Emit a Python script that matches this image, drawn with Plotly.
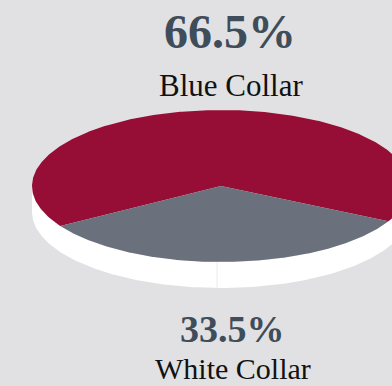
import numpy as np
import plotly.graph_objects as go

labels = ["Blue Collar", "White Collar"]
values = [66.5, 33.5]
colors = ["#960D35", "#6A717C"]
pct_text = ["66.5%", "33.5%"]

W, H = 392, 386
cx, cy, a, b, depth = 221, 186, 189, 76, 26
mid_angle_small = 88  # degrees, screen (y down), centre of second slice

def ell(th, dy=0):
    t = np.radians(th)
    return cx + a * np.cos(t), cy + dy + b * np.sin(t)

fig = go.Figure()

# side wall (white), lower half of ellipse
th1 = np.linspace(0, 180, 200)
x1, y1 = ell(th1)
x2, y2 = ell(th1[::-1], depth)
fig.add_trace(go.Scatter(x=np.r_[x1, x2], y=np.r_[y1, y2], fill="toself",
                         fillcolor="#FFFFFF", mode="lines", line=dict(width=0),
                         hoverinfo="skip", showlegend=False))
fig.add_trace(go.Scatter(x=[217, 217], y=[cy + b, cy + b + depth], mode="lines",
                         line=dict(color="#ECECEC", width=1), hoverinfo="skip",
                         showlegend=False))

total = sum(values)
span_small = values[1] / total * 360
start_small = mid_angle_small - span_small / 2
spans = [(start_small + span_small, start_small + 360), (start_small, start_small + span_small)]
for (s, e), col in zip(spans, colors):
    th = np.linspace(s, e, 400)
    xs, ys = ell(th)
    fig.add_trace(go.Scatter(x=np.r_[cx, xs, cx], y=np.r_[cy, ys, cy], fill="toself",
                             fillcolor=col, mode="lines", line=dict(width=0, color=col),
                             hoverinfo="skip", showlegend=False))

serif = "Liberation Serif"
pc = "#3F4C5A"
fig.add_annotation(x=230, y=31, text="<b>" + pct_text[0] + "</b>", showarrow=False,
                   font=dict(family=serif, size=48, color=pc), xanchor="center", yanchor="middle")
fig.add_annotation(x=231, y=85, text=labels[0], showarrow=False,
                   font=dict(family=serif, size=31, color="#111111"), xanchor="center", yanchor="middle")
fig.add_annotation(x=232, y=329, text="<b>" + pct_text[1] + "</b>", showarrow=False,
                   font=dict(family=serif, size=38, color=pc), xanchor="center", yanchor="middle")
fig.add_annotation(x=233, y=368, text=labels[1], showarrow=False,
                   font=dict(family=serif, size=30, color="#111111"), xanchor="center", yanchor="middle")

fig.update_layout(width=W, height=H, margin=dict(l=0, r=0, t=0, b=0),
                  paper_bgcolor="#E1E1E3", plot_bgcolor="#E1E1E3",
                  xaxis=dict(range=[0, W], visible=False, fixedrange=True),
                  yaxis=dict(range=[H, 0], visible=False, fixedrange=True))
fig.write_html("out.html")
